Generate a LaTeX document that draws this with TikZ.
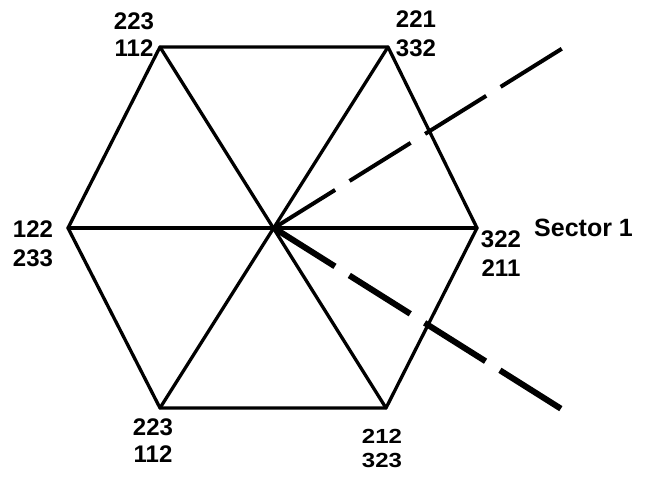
\documentclass[tikz,border=0pt]{standalone}
\usepackage{fontspec}
\setmainfont{Liberation Sans}
\begin{document}
\begin{tikzpicture}[x=1pt,y=-1pt,
  edge/.style={line width=3.3pt,line cap=round,line join=round},
  dashA/.style={line width=4pt,dash pattern=on 72pt off 17pt},
  dashB/.style={line width=6pt,dash pattern=on 72pt off 17pt},
  lab/.style={inner sep=0pt,font=\fontsize{24}{28}\selectfont\bfseries},
  sec/.style={inner sep=0pt,anchor=west,font=\fontsize{25}{28}\selectfont\bfseries}]
\useasboundingbox (0,0) rectangle (647,476);
% vertices
\coordinate (TL) at (160,47);
\coordinate (TR) at (388,47);
\coordinate (L) at (68,228);
\coordinate (R) at (477,228);
\coordinate (BL) at (160,408);
\coordinate (BR) at (386,408);
\coordinate (C) at (274,228);
\coordinate (E1) at (563,48);
\coordinate (E2) at (563,410);
% hexagon and diagonals
\draw[edge] (TL) -- (TR) -- (R) -- (BR) -- (BL) -- (L) -- cycle;
\draw[edge] (TL) -- (BR);
\draw[edge] (TR) -- (BL);
\draw[edge] (L) -- (R);
% dashed sector boundaries
\draw[dashA] (C) -- (E1);
\draw[dashB] (C) -- (E2);
% labels
\node[lab] (tl1) at (134,21) {223};
\node[lab] (tl2) at (134,48) {112};
\node[lab] (tr1) at (416,19) {221};
\node[lab] (tr2) at (416,48) {332};
\node[lab] (l1) at (33,229) {122};
\node[lab] (l2) at (33,258) {233};
\node[lab] (r1) at (501,239) {322};
\node[lab] (r2) at (501,268) {211};
\node[lab] (bl1) at (153,427) {223};
\node[lab] (bl2) at (153,454) {112};
\node[lab,yscale=0.85] (br1) at (382,436) {212};
\node[lab,yscale=0.85] (br2) at (382,460) {323};
\node[sec] (s1) at (534,228) {Sector 1};
\end{tikzpicture}
\end{document}
